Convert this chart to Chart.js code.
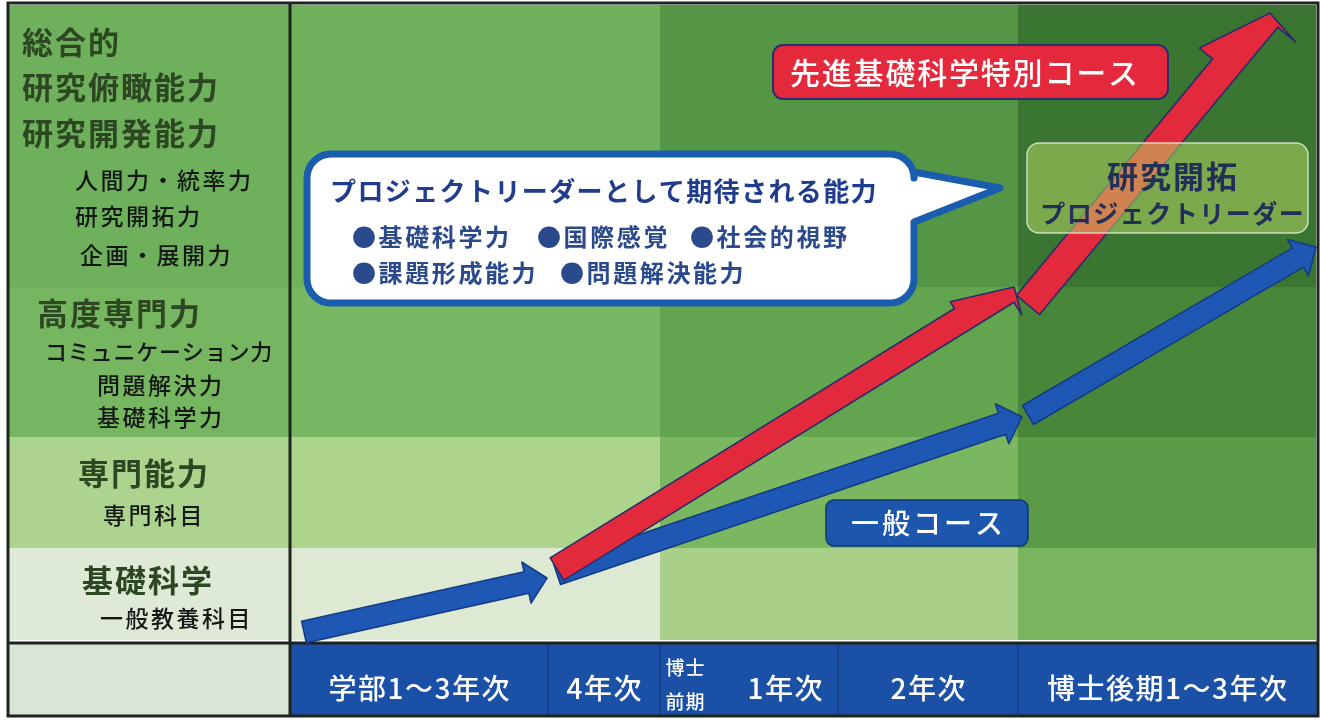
<!DOCTYPE html>
<html lang="ja">
<head>
<meta charset="utf-8">
<title>先進基礎科学特別コース</title>
<script src="https://cdn.jsdelivr.net/npm/chart.js@4.4.1/dist/chart.umd.min.js"></script>
<style>
  html, body { margin: 0; padding: 0; background: #fff; }
  canvas { display: block; }
</style>
</head>
<body>
<canvas id="chart" width="1320" height="724"></canvas>
<script>
// grid units: x runs right from the left edge of the stage area,
// y runs up from the bottom of the level area
const stageEdges = [0, 258, 370, 548, 728, 1026];
const stageLabels = ['学部1～3年次', '4年次', '1年次', '2年次', '博士後期1～3年次'];
const shadeEdges = [0, 370, 728, 1026];
const levelEdges = [0, 92, 203, 353, 635];
const levelHeadings = [['基礎科学'], ['専門能力'], ['高度専門力'], ['総合的', '研究俯瞰能力', '研究開発能力']];
const levelSkills = [['一般教養科目'], ['専門科目'], ['コミュニケーション力', '問題解決力', '基礎科学力'], ['人間力・統率力', '研究開拓力', '企画・展開力']];

// course arrows: [tail, tip]
const generalStage1 = [[14, 8], [257, 62]];
const generalStage2 = [[267, 66], [732, 223]];
const generalStage3 = [[738, 225], [1026, 393]];
const advancedStage1 = [[267, 71], [724, 353]];
const advancedStage2 = [[738, 335], [980, 627]];

const calloutTitle = 'プロジェクトリーダーとして期待される能力';
const calloutItems = [['●基礎科学力', '●国際感覚', '●社会的視野'], ['●課題形成能力', '●問題解決能力']];
const advancedName = '先進基礎科学特別コース';
const generalName = '一般コース';
const goalLines = ['研究開拓', 'プロジェクトリーダー'];

// shading per [column group][level]
const cellShades = [
  ['#dde9d3', '#acd48d', '#79b862', '#70b15c'],
  ['#a9d088', '#7ab760', '#63a44f', '#549646'],
  ['#78b55e', '#5b9a47', '#48873a', '#3a7632']
];
const labelShades = ['#dee9d6', '#add48f', '#77b661', '#6eb05c'];

const FONT = "'Noto Sans CJK JP', 'Noto Sans', sans-serif";

function txt(ctx, s, x, y, size, weight, color, align, spacing) {
  ctx.save();
  ctx.font = weight + ' ' + size + 'px ' + FONT;
  ctx.fillStyle = color;
  ctx.textAlign = align;
  ctx.textBaseline = 'middle';
  ctx.letterSpacing = spacing + 'px';
  ctx.fillText(s, align === 'center' ? x + spacing / 2 : x, y);
  ctx.restore();
}

function arrowShape(ctx, a, b, s) {
  const dx = b.x - a.x, dy = b.y - a.y, len = Math.hypot(dx, dy);
  const ux = dx / len, uy = dy / len, nx = -uy, ny = ux;
  const P = (back, perp) => [b.x - back * ux + perp * nx, b.y - back * uy + perp * ny];
  const pts = [
    [a.x - s.w * nx, a.y - s.w * ny],
    P(s.bu, -s.w), P(s.bu, -s.wu), [b.x, b.y], P(s.bd, s.wd), P(s.bd, s.w),
    [a.x + s.w * nx, a.y + s.w * ny]
  ];
  ctx.beginPath();
  pts.forEach((p, i) => i ? ctx.lineTo(p[0], p[1]) : ctx.moveTo(p[0], p[1]));
  ctx.closePath();
  ctx.fillStyle = s.fill;
  ctx.fill();
  ctx.lineJoin = 'round';
  ctx.lineWidth = 1.6;
  ctx.strokeStyle = s.edge;
  ctx.stroke();
}

const blueHead = { w: 11, bu: 21, wu: 21, bd: 21, wd: 21, fill: '#1f58b4', edge: '#143b85' };
const arrowStyles = [
  blueHead,
  blueHead,
  { w: 13, bu: 62, wu: 21, bd: 8, wd: 28, fill: '#e32a3c', edge: '#2a2d6a' },
  blueHead,
  { w: 15, bu: 72, wu: 32, bd: 6, wd: 38, fill: '#e32a3c', edge: '#2a2d6a' }
];

const diagram = {
  id: 'diagram',
  beforeDatasetsDraw(chart) {
    const ctx = chart.ctx, sx = chart.scales.x, sy = chart.scales.y;
    const X = v => sx.getPixelForValue(v), Y = v => sy.getPixelForValue(v);
    const rect = (x0, y0, x1, y1, c) => {
      ctx.fillStyle = c;
      ctx.fillRect(X(x0), Y(y1), X(x1) - X(x0), Y(y0) - Y(y1));
    };
    ctx.save();
    // level label column
    for (let r = 0; r < 4; r++) rect(-282, levelEdges[r], 0, levelEdges[r + 1], labelShades[r]);
    rect(-282, -76, 0, -3, '#d9e5d5');
    // shaded cells
    for (let c = 0; c < 3; c++)
      for (let r = 0; r < 4; r++)
        rect(shadeEdges[c], levelEdges[r], shadeEdges[c + 1], levelEdges[r + 1], cellShades[c][r]);
    // stage bar
    rect(0, -76, 1028, -3, '#1b50a7');
    ctx.strokeStyle = '#133c80';
    ctx.lineWidth = 1.5;
    for (let i = 1; i < stageEdges.length - 1; i++) {
      ctx.beginPath();
      ctx.moveTo(X(stageEdges[i]), Y(-4));
      ctx.lineTo(X(stageEdges[i]), Y(-76));
      ctx.stroke();
    }
    stageLabels.forEach((s, i) => {
      let cx = (X(stageEdges[i]) + X(stageEdges[i + 1])) / 2;
      if (i === 2) {
        txt(ctx, '博士', X(395), Y(-28), 19, 500, '#fff', 'center', 1);
        txt(ctx, '前期', X(395), Y(-62), 19, 500, '#fff', 'center', 1);
        cx = X(495);
      }
      txt(ctx, s, cx, Y(-48), 28, 500, '#fff', 'center', 1.5);
    });
    // frame lines
    ctx.strokeStyle = '#1d251d';
    ctx.lineWidth = 3;
    ctx.beginPath();
    ctx.rect(X(-282), Y(637), X(1028) - X(-282), Y(-76) - Y(637));
    ctx.moveTo(X(0), Y(637)); ctx.lineTo(X(0), Y(-76));
    ctx.moveTo(X(-282), Y(-3)); ctx.lineTo(X(1028), Y(-3));
    ctx.stroke();
    // level texts
    const headPos = [[[-208, 60]], [[-212, 167]], [[-253, 327]], [[-268, 598], [-268, 553], [-268, 507]]];
    const skillPos = [[[-190, 22]], [[-187, 125]], [[-245, 288], [-193, 255], [-193, 223]], [[-215, 460], [-215, 424], [-210, 385]]];
    levelHeadings.forEach((lines, r) => lines.forEach((s, k) =>
      txt(ctx, s, X(headPos[r][k][0]), Y(headPos[r][k][1]), 31, 700, '#2d4722', 'left', 2)));
    levelSkills.forEach((lines, r) => lines.forEach((s, k) =>
      txt(ctx, s, X(skillPos[r][k][0]), Y(skillPos[r][k][1]), s.length > 8 ? 22 : 23, 500, '#141814', 'left', s.length > 8 ? 0.8 : 2.5)));
    ctx.restore();
  },
  afterDatasetsDraw(chart) {
    const ctx = chart.ctx, sx = chart.scales.x, sy = chart.scales.y;
    const X = v => sx.getPixelForValue(v), Y = v => sy.getPixelForValue(v);
    ctx.save();
    // course arrows from the dataset points
    chart.data.datasets.forEach((ds, i) => {
      const pts = chart.getDatasetMeta(i).data;
      arrowShape(ctx, pts[0], pts[1], arrowStyles[i]);
    });
    // goal box (translucent, over the arrow)
    ctx.beginPath();
    ctx.roundRect(X(737), Y(497), X(1018) - X(737), Y(407) - Y(497), 12);
    ctx.fillStyle = 'rgba(190, 220, 100, 0.5)';
    ctx.fill();
    ctx.lineWidth = 1.5;
    ctx.strokeStyle = 'rgba(214, 230, 205, 0.9)';
    ctx.stroke();
    txt(ctx, goalLines[0], X(882), Y(464), 31, 700, '#222f58', 'center', 2);
    txt(ctx, goalLines[1], X(882), Y(427), 25, 700, '#222f58', 'center', 1.5);
    // callout bubble
    const l = X(17), r = X(624), t = Y(486), b = Y(337), rad = 24;
    ctx.beginPath();
    ctx.moveTo(l + rad, t);
    ctx.lineTo(r - rad, t);
    ctx.arcTo(r, t, r, t + rad, rad);
    ctx.lineTo(r, Y(468));
    ctx.lineTo(X(710), Y(452));
    ctx.lineTo(r, Y(418));
    ctx.lineTo(r, b - rad);
    ctx.arcTo(r, b, r - rad, b, rad);
    ctx.lineTo(l + rad, b);
    ctx.arcTo(l, b, l, b - rad, rad);
    ctx.lineTo(l, t + rad);
    ctx.arcTo(l, t, l + rad, t, rad);
    ctx.closePath();
    ctx.fillStyle = '#ffffff';
    ctx.fill();
    ctx.lineJoin = 'round';
    ctx.lineWidth = 7;
    ctx.strokeStyle = '#1a5cad';
    ctx.stroke();
    txt(ctx, calloutTitle, X(40), Y(449), 26, 700, '#1f3d8c', 'left', 1.4);
    const itemX = [[62, 247, 400], [62, 270]];
    const itemY = [403, 367];
    calloutItems.forEach((row, k) => row.forEach((s, j) =>
      txt(ctx, s, X(itemX[k][j]), Y(itemY[k]), 24, 700, '#2a4a8c', 'left', 2.6)));
    // course name tags
    ctx.beginPath();
    ctx.roundRect(X(483), Y(595), X(878) - X(483), Y(541) - Y(595), 10);
    ctx.fillStyle = '#e3293b';
    ctx.fill();
    ctx.lineWidth = 2;
    ctx.strokeStyle = '#2b2f6e';
    ctx.stroke();
    txt(ctx, advancedName, X(500), Y(567), 30, 500, '#fff', 'left', 1.8);
    ctx.beginPath();
    ctx.roundRect(X(536), Y(140), X(738) - X(536), Y(94) - Y(140), 8);
    ctx.fillStyle = '#1d56ad';
    ctx.fill();
    ctx.lineWidth = 1.5;
    ctx.strokeStyle = '#0f3675';
    ctx.stroke();
    txt(ctx, generalName, X(637), Y(117), 28, 500, '#fff', 'center', 3);
    ctx.restore();
  }
};

const toPts = arr => arr.map(p => ({ x: p[0], y: p[1] }));

new Chart(document.getElementById('chart'), {
  type: 'scatter',
  data: {
    datasets: [
      { label: '一般コース 学部', data: toPts(generalStage1) },
      { label: '一般コース 博士前期', data: toPts(generalStage2) },
      { label: '先進基礎科学特別コース 博士前期', data: toPts(advancedStage1) },
      { label: '一般コース 博士後期', data: toPts(generalStage3) },
      { label: '先進基礎科学特別コース 博士後期', data: toPts(advancedStage2) }
    ]
  },
  options: {
    responsive: false,
    animation: false,
    events: [],
    layout: { padding: 0 },
    elements: { point: { radius: 0, hoverRadius: 0 } },
    scales: {
      x: { type: 'linear', min: -290, max: 1030, display: false },
      y: { type: 'linear', min: -84, max: 640, display: false }
    },
    plugins: { legend: { display: false }, tooltip: { enabled: false } }
  },
  plugins: [diagram]
});
</script>
</body>
</html>
